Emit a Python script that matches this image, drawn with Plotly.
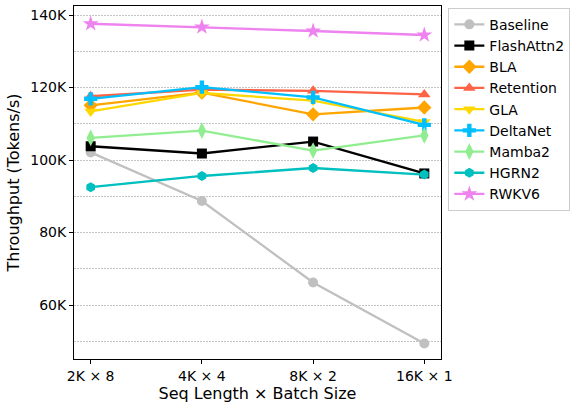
import plotly.graph_objects as go

categories = ["2K × 8", "4K × 4", "8K × 2", "16K × 1"]
series_names = ["Baseline", "FlashAttn2", "BLA", "Retention", "GLA", "DeltaNet", "Mamba2", "HGRN2", "RWKV6"]
baseline = [102100, 88700, 66200, 49400]
flashattn2 = [103800, 101800, 105100, 96300]
bla = [115100, 118600, 112600, 114500]
retention = [117600, 119400, 119100, 118100]
gla = [113400, 118500, 116400, 110500]
deltanet = [116900, 120100, 117300, 109700]
mamba2 = [106100, 108100, 102600, 106800]
hgrn2 = [92500, 95600, 97800, 96000]
rwkv6 = [137600, 136700, 135600, 134500]
y_tickvals = [60000, 80000, 100000, 120000, 140000]
y_ticktext = ["60K", "80K", "100K", "120K", "140K"]

values = [baseline, flashattn2, bla, retention, gla, deltanet, mamba2, hgrn2, rwkv6]
colors = ["#C0C0C0", "#000000", "#FFA500", "#FF6347", "#FFD700", "#00BFFF", "#90EE90", "#00BFBF", "#EE82EE"]
symbols = ["circle", "square", "diamond", "triangle-up", "triangle-down", "cross", "diamond-tall", "hexagon", "star"]
sizes = [10, 10, 11, 11, 11, 11, 12, 10, 12]

x_idx = list(range(len(categories)))
fig = go.Figure()
for name, vals, c, s, sz in zip(series_names, values, colors, symbols, sizes):
    fig.add_trace(go.Scatter(x=x_idx, y=vals, name=name, mode="lines+markers",
                             line=dict(color=c, width=2.3),
                             marker=dict(symbol=s, size=sz, color=c)))

fig.update_layout(
    width=571, height=404,
    margin=dict(l=74, r=130, t=6, b=45, autoexpand=False),
    paper_bgcolor="white", plot_bgcolor="white",
    font=dict(family="DejaVu Sans", size=14, color="black"),
    showlegend=True,
    legend=dict(x=1.02, y=0.995, xanchor="left", yanchor="top",
                bordercolor="#CCCCCC", borderwidth=1, bgcolor="white",
                font=dict(size=14), tracegroupgap=0, itemwidth=30),
)
fig.update_xaxes(
    range=[-0.15, 3.15], tickvals=x_idx, ticktext=categories,
    showline=True, linecolor="black", linewidth=1, mirror=True,
    ticks="outside", ticklen=4, tickcolor="black", showgrid=False, zeroline=False,
    tickfont=dict(size=14),
    title=dict(text="Seq Length × Batch Size", font=dict(size=16), standoff=4),
)
fig.update_yaxes(
    range=[45100, 142500], tickvals=y_tickvals, ticktext=y_ticktext,
    showline=True, linecolor="black", linewidth=1, mirror=True,
    ticks="outside", ticklen=4, tickcolor="black", zeroline=False,
    tickfont=dict(size=14),
    showgrid=True, gridcolor="#C4C4C4", griddash="2px,1px", gridwidth=0.8,
    minor=dict(tickvals=[50000, 70000, 90000, 110000, 130000], showgrid=True,
               gridcolor="#C4C4C4", griddash="2px,1px", gridwidth=0.8, ticks=""),
    title=dict(text="Throughput (Tokens/s)", font=dict(size=16), standoff=6),
)
fig.write_html("out.html", config={"displayModeBar": False},
               post_script="document.body.style.margin='0px';")
